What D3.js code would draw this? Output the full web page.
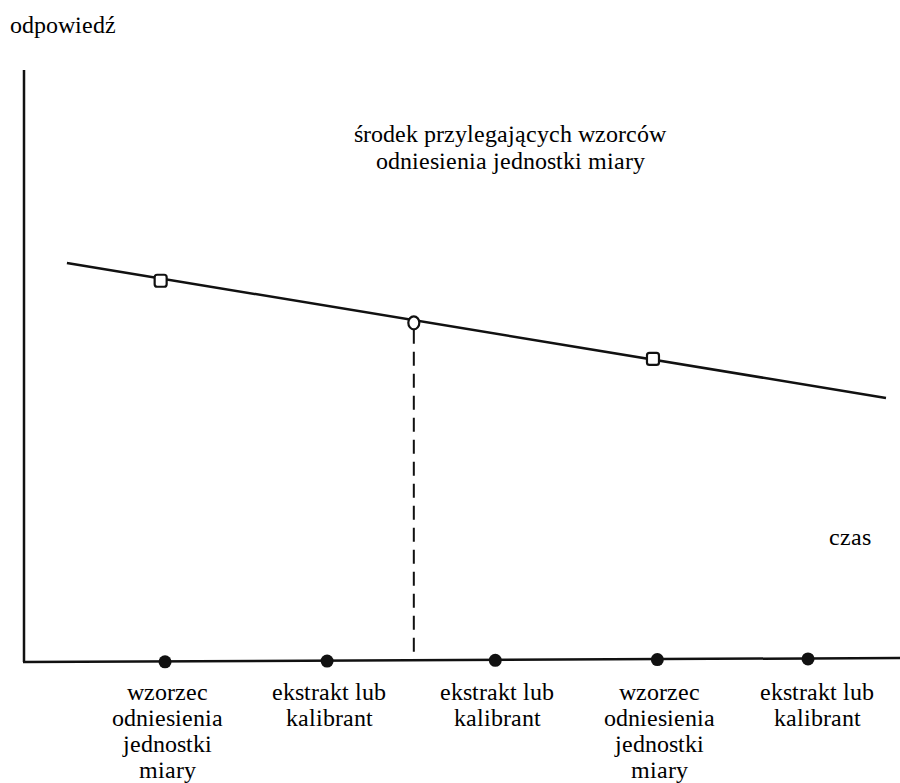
<!DOCTYPE html>
<html>
<head>
  <meta charset="UTF-8">
  <title>wykres</title>
  <script src="https://d3js.org/d3.v7.min.js"></script>
  <style>
    @font-face { font-family: "RefSerif"; src: local("Liberation Serif"), local("LiberationSerif"), local("Liberation Serif Regular"); }
    body { margin: 0; background: #fff; }
    #c, #c text { font-family: "RefSerif", "Liberation Serif", "Times New Roman", Times, serif !important; }
  </style>
</head>
<body>
  <svg width="900" height="783" id="c" font-family="Liberation Serif, serif"></svg>

  <script>
    // time positions of injections (arbitrary units 0-100)
    const sampleTimes = [16.1, 34.6, 53.8, 72.3, 89.5];
    const sampleLabels = [
      ["wzorzec", "odniesienia", "jednostki", "miary"],
      ["ekstrakt lub", "kalibrant"],
      ["ekstrakt lub", "kalibrant"],
      ["wzorzec", "odniesienia", "jednostki", "miary"],
      ["ekstrakt lub", "kalibrant"]
    ];

    // response drift line (start, end)
    const driftTimes = [4.9, 98.4];
    const driftResponse = [67.4, 44.6];

    // reference standards on the line
    const refTimes = [15.6, 71.8];
    const refResponse = [64.4, 51.2];

    // midpoint of adjacent reference standards
    const midTime = [44.5];
    const midResponse = [57.3];

    const svg = d3.select("#c");

    const x = d3.scaleLinear().domain([0, 100]).range([24, 900]);
    const y = d3.scaleLinear().domain([0, 100]).range([662, 70]);

    // axes
    svg.append("line")
      .attr("x1", x(0)).attr("y1", y(0))
      .attr("x2", x(0)).attr("y2", y(100))
      .attr("stroke", "#111").attr("stroke-width", 2.5);
    svg.append("line")
      .attr("x1", x(0) - 1).attr("y1", y(0))
      .attr("x2", x(100)).attr("y2", y(0) - 4)
      .attr("stroke", "#111").attr("stroke-width", 2.5);

    // drift line
    const drift = driftTimes.map((t, i) => [t, driftResponse[i]]);
    svg.append("path")
      .datum(drift)
      .attr("d", d3.line().x(d => x(d[0])).y(d => y(d[1])))
      .attr("fill", "none")
      .attr("stroke", "#111")
      .attr("stroke-width", 2.5);

    // dashed drop line from midpoint to axis
    svg.selectAll(".drop")
      .data(midTime)
      .enter()
      .append("line")
      .attr("x1", d => x(d)).attr("x2", d => x(d))
      .attr("y1", (d, i) => y(midResponse[i]) + 7)
      .attr("y2", y(0) - 2)
      .attr("stroke", "#111")
      .attr("stroke-width", 2)
      .attr("stroke-dasharray", "14,8");

    // reference squares
    svg.selectAll(".ref")
      .data(refTimes)
      .enter()
      .append("rect")
      .attr("x", d => x(d) - 6)
      .attr("y", (d, i) => y(refResponse[i]) - 6)
      .attr("width", 12).attr("height", 12)
      .attr("rx", 2.5)
      .attr("fill", "#fff")
      .attr("stroke", "#111")
      .attr("stroke-width", 2.2);

    // midpoint circle
    svg.selectAll(".mid")
      .data(midTime)
      .enter()
      .append("ellipse")
      .attr("cx", d => x(d))
      .attr("cy", (d, i) => y(midResponse[i]))
      .attr("rx", 5.5).attr("ry", 6.5)
      .attr("fill", "#fff")
      .attr("stroke", "#111")
      .attr("stroke-width", 2.2);

    // injection dots on time axis
    svg.selectAll(".dot")
      .data(sampleTimes)
      .enter()
      .append("circle")
      .attr("cx", d => x(d))
      .attr("cy", d => y(0) - 4 * (d / 100) + 0.5)
      .attr("r", 6.5)
      .attr("fill", "#111");

    function addText(tx, ty, s, anchor) {
      svg.append("text")
        .attr("x", tx)
        .attr("y", ty)
        .attr("font-size", 24)
        .attr("font-family", "Liberation Serif")
        .attr("text-anchor", anchor)
        .text(s);
    }

    // sample labels
    sampleLabels.forEach((lines, i) => {
      const lx = x(sampleTimes[i]) + (i === 4 ? 9 : 2);
      lines.forEach((s, j) => addText(lx, 700 + j * 26, s, "middle"));
    });

    // axis titles
    addText(10, 33, "odpowiedź", "start");
    addText(829, 545, "czas", "start");

    // annotation
    ["środek przylegających wzorców", "odniesienia jednostki miary"].forEach((s, j) => {
      addText(510, 142 + j * 27, s, "middle");
    });
  </script>
</body>
</html>
